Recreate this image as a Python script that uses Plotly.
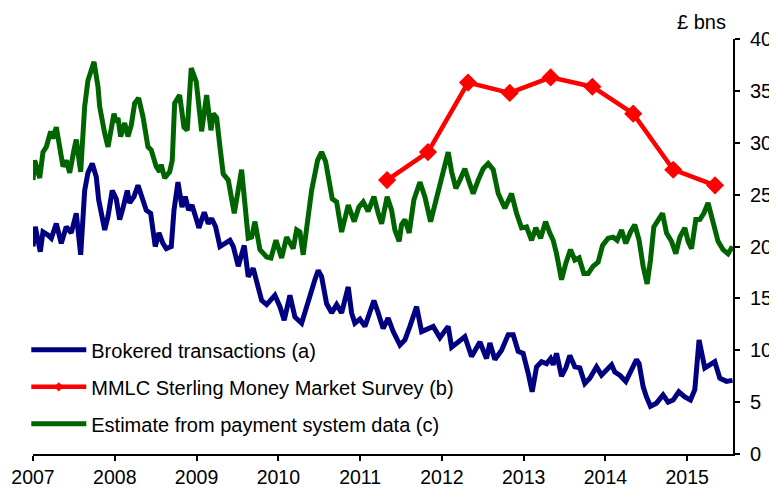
import plotly.graph_objects as go

# ---- data ----
brokered_dates = [2007.000, 2007.028, 2007.089, 2007.122, 2007.183, 2007.224, 2007.285, 2007.346, 2007.407, 2007.468,
                  2007.529, 2007.583, 2007.632, 2007.672, 2007.725, 2007.774, 2007.803, 2007.877, 2007.917, 2007.969,
                  2008.018, 2008.060, 2008.100, 2008.153, 2008.182, 2008.235, 2008.284, 2008.333, 2008.385, 2008.439,
                  2008.495, 2008.540, 2008.589, 2008.630, 2008.691, 2008.724, 2008.773, 2008.822, 2008.862, 2008.903,
                  2008.944, 2008.984, 2009.029, 2009.094, 2009.143, 2009.185, 2009.233, 2009.286, 2009.347, 2009.408,
                  2009.449, 2009.510, 2009.583, 2009.632, 2009.693, 2009.754, 2009.796, 2009.857, 2009.897, 2009.958,
                  2010.020, 2010.072, 2010.142, 2010.203, 2010.285, 2010.346, 2010.407, 2010.447, 2010.488, 2010.529,
                  2010.590, 2010.652, 2010.713, 2010.774, 2010.855, 2010.896, 2010.936, 2010.998, 2011.059, 2011.120,
                  2011.169, 2011.221, 2011.282, 2011.343, 2011.405, 2011.487, 2011.548, 2011.609, 2011.691, 2011.752,
                  2011.813, 2011.894, 2011.976, 2012.077, 2012.119, 2012.199, 2012.281, 2012.363, 2012.465, 2012.546,
                  2012.587, 2012.648, 2012.730, 2012.811, 2012.872, 2012.933, 2012.994, 2013.055, 2013.104, 2013.158,
                  2013.219, 2013.280, 2013.329, 2013.361, 2013.402, 2013.463, 2013.516, 2013.565, 2013.626, 2013.687,
                  2013.748, 2013.809, 2013.891, 2013.952, 2014.013, 2014.075, 2014.115, 2014.176, 2014.249, 2014.319,
                  2014.380, 2014.412, 2014.461, 2014.502, 2014.551, 2014.624, 2014.705, 2014.767, 2014.828, 2014.897,
                  2014.971, 2015.040, 2015.093, 2015.145, 2015.175, 2015.215, 2015.276, 2015.337, 2015.399, 2015.480,
                  2015.554]
brokered_values = [20.0, 21.9, 19.5, 21.4, 21.1, 20.8, 22.2, 20.3, 21.9, 21.3,
                   23.2, 19.2, 25.4, 27.1, 28.0, 26.7, 24.5, 21.6, 22.9, 25.4,
                   24.6, 22.6, 23.7, 25.4, 24.2, 24.8, 25.9, 24.6, 23.5, 23.2,
                   20.0, 21.3, 20.3, 19.8, 20.0, 23.5, 26.2, 23.8, 24.8, 23.5,
                   24.0, 23.0, 21.8, 23.3, 22.2, 22.7, 21.9, 20.0, 20.3, 20.6,
                   20.0, 18.1, 20.1, 17.1, 17.9, 16.3, 14.8, 14.4, 14.7, 15.3,
                   14.2, 12.9, 15.3, 13.2, 12.6, 14.2, 16.1, 16.8, 17.7, 17.1,
                   14.5, 13.6, 14.4, 13.6, 16.1, 13.6, 12.6, 13.0, 12.3, 13.9,
                   14.8, 13.6, 12.1, 13.1, 11.8, 10.5, 11.0, 12.3, 14.2, 11.8,
                   12.0, 12.3, 11.2, 12.3, 10.3, 10.8, 11.3, 9.4, 10.8, 9.2,
                   10.7, 9.1, 10.0, 11.5, 11.5, 9.9, 9.7, 7.8, 6.0, 8.4,
                   8.9, 8.7, 9.2, 8.6, 9.7, 7.5, 8.3, 9.5, 8.4, 8.3,
                   6.8, 7.3, 8.4, 7.6, 8.1, 8.6, 7.9, 7.6, 7.0, 8.1,
                   9.1, 8.7, 6.5, 5.5, 4.6, 4.9, 5.7, 5.0, 5.2, 6.0,
                   5.5, 5.2, 6.2, 11.0, 10.0, 8.3, 8.6, 8.9, 7.3, 7.0,
                   7.1]

mmlc_dates = [2011.33, 2011.83, 2012.32, 2012.83, 2013.33, 2013.84, 2014.34, 2014.83, 2015.34]
mmlc_values = [26.4, 29.1, 35.8, 34.8, 36.3, 35.4, 32.8, 27.4, 25.9]

payment_dates = [2007.000, 2007.021, 2007.082, 2007.122, 2007.163, 2007.216, 2007.244, 2007.285, 2007.326, 2007.367,
                 2007.407, 2007.449, 2007.501, 2007.529, 2007.583, 2007.632, 2007.672, 2007.746, 2007.795, 2007.815,
                 2007.877, 2007.917, 2007.990, 2008.018, 2008.039, 2008.072, 2008.121, 2008.161, 2008.202, 2008.243,
                 2008.292, 2008.345, 2008.406, 2008.446, 2008.507, 2008.549, 2008.568, 2008.610, 2008.671, 2008.703,
                 2008.732, 2008.793, 2008.846, 2008.886, 2008.935, 2008.996, 2009.021, 2009.062, 2009.123, 2009.176,
                 2009.204, 2009.246, 2009.286, 2009.326, 2009.388, 2009.461, 2009.502, 2009.551, 2009.632, 2009.674,
                 2009.714, 2009.775, 2009.857, 2009.910, 2009.971, 2010.040, 2010.101, 2010.182, 2010.224, 2010.264,
                 2010.304, 2010.366, 2010.407, 2010.480, 2010.529, 2010.578, 2010.631, 2010.659, 2010.713, 2010.774,
                 2010.855, 2010.928, 2010.985, 2011.038, 2011.099, 2011.169, 2011.221, 2011.263, 2011.331, 2011.385,
                 2011.425, 2011.478, 2011.507, 2011.548, 2011.600, 2011.658, 2011.731, 2011.792, 2011.862, 2011.914,
                 2011.976, 2012.037, 2012.077, 2012.119, 2012.171, 2012.220, 2012.281, 2012.334, 2012.383, 2012.444,
                 2012.505, 2012.566, 2012.628, 2012.689, 2012.770, 2012.852, 2012.913, 2012.974, 2013.035, 2013.097,
                 2013.149, 2013.207, 2013.268, 2013.320, 2013.361, 2013.402, 2013.463, 2013.516, 2013.573, 2013.626,
                 2013.678, 2013.736, 2013.789, 2013.850, 2013.911, 2013.965, 2014.033, 2014.094, 2014.143, 2014.197,
                 2014.249, 2014.307, 2014.359, 2014.412, 2014.461, 2014.510, 2014.551, 2014.592, 2014.644, 2014.698,
                 2014.747, 2014.808, 2014.861, 2014.910, 2014.971, 2015.011, 2015.053, 2015.105, 2015.154, 2015.203,
                 2015.255, 2015.316, 2015.377, 2015.438, 2015.499, 2015.554]
payment_values = [26.4, 28.3, 26.6, 29.1, 29.6, 31.1, 30.4, 31.5, 29.6, 27.7,
                  28.3, 27.1, 29.3, 30.3, 27.2, 33.5, 36.0, 37.8, 35.4, 33.5,
                  30.9, 29.6, 32.8, 32.0, 32.4, 30.6, 31.9, 30.6, 31.7, 33.8,
                  34.3, 32.5, 29.6, 29.3, 27.7, 27.2, 27.9, 26.6, 27.2, 28.3,
                  33.8, 34.6, 31.5, 31.2, 37.2, 35.9, 34.1, 31.1, 34.6, 31.2,
                  32.8, 32.4, 29.6, 27.0, 26.4, 23.2, 25.1, 27.4, 20.8, 20.9,
                  22.4, 19.7, 19.0, 18.9, 20.6, 18.9, 20.9, 19.8, 21.6, 21.4,
                  19.2, 22.6, 25.4, 28.3, 29.1, 28.2, 26.1, 24.6, 24.3, 21.4,
                  24.0, 22.4, 23.8, 24.3, 23.4, 24.8, 23.2, 22.2, 24.8, 23.5,
                  21.6, 20.5, 22.1, 22.6, 21.3, 24.5, 26.2, 24.8, 22.4, 24.0,
                  26.1, 27.9, 29.1, 27.2, 25.6, 26.4, 27.5, 26.2, 25.1, 26.4,
                  27.5, 28.0, 27.4, 25.1, 23.7, 25.1, 23.2, 21.8, 21.9, 20.6,
                  21.8, 20.8, 22.4, 21.3, 20.6, 19.3, 16.8, 18.4, 19.7, 18.7,
                  18.9, 17.4, 17.4, 18.1, 18.5, 20.1, 20.8, 20.9, 20.6, 21.6,
                  20.3, 21.4, 22.1, 20.6, 18.1, 16.4, 18.7, 21.9, 22.6, 23.2,
                  21.3, 20.5, 19.3, 20.9, 21.8, 20.5, 19.8, 22.6, 22.6, 23.2,
                  24.2, 22.4, 20.5, 19.7, 19.3, 20.0]

year_ticks = [2007, 2008, 2009, 2010, 2011, 2012, 2013, 2014, 2015]
value_ticks = [0, 5, 10, 15, 20, 25, 30, 35, 40]

FONT = "Arial, Liberation Sans, sans-serif"
BLUE, RED, GREEN = "#000080", "#FF0000", "#006400"

fig = go.Figure()
fig.add_trace(go.Scatter(x=brokered_dates, y=brokered_values, mode="lines",
                         name="Brokered transactions (a)", legendgroup="a",
                         line=dict(color=BLUE, width=5)))
fig.add_trace(go.Scatter(x=mmlc_dates, y=mmlc_values, mode="lines+markers",
                         name="MMLC Sterling Money Market Survey (b)", legendgroup="b",
                         showlegend=False,
                         line=dict(color=RED, width=4.5),
                         marker=dict(symbol="diamond", size=14, color=RED)))
# legend entry for the survey (smaller marker, as in the reference legend)
fig.add_trace(go.Scatter(x=[None], y=[None], mode="lines+markers",
                         name="MMLC Sterling Money Market Survey (b)", legendgroup="b",
                         line=dict(color=RED, width=4.5),
                         marker=dict(symbol="diamond", size=7, color=RED)))
fig.add_trace(go.Scatter(x=payment_dates, y=payment_values, mode="lines",
                         name="Estimate from payment system data (c)", legendgroup="c",
                         line=dict(color=GREEN, width=5)))

# the page body adds an 8px offset, so margins are chosen to land the plot area
# at the reference position in the browser window
fig.update_layout(
    width=777, height=488,
    margin=dict(l=25, r=52, t=31, b=42, autoexpand=False),
    paper_bgcolor="white", plot_bgcolor="white",
    font=dict(family=FONT, size=20, color="black"),
    showlegend=True,
    legend=dict(x=-0.0096, y=0.298, xanchor="left", yanchor="top",
                bgcolor="rgba(0,0,0,0)", traceorder="grouped", tracegroupgap=8,
                itemwidth=55, itemsizing="trace",
                font=dict(family=FONT, size=20, color="black")),
    xaxis=dict(range=[2007, 2015.56], tickvals=year_ticks, ticktext=[str(v) for v in year_ticks],
               automargin=False,
               showgrid=False, zeroline=False, showline=True, linecolor="black", linewidth=2,
               ticks="outside", ticklen=5, tickwidth=2, tickcolor="black",
               ticklabelstandoff=0,
               tickfont=dict(family=FONT, size=19.5, color="black")),
    yaxis=dict(range=[0, 40], tickvals=value_ticks, side="right",
               automargin=False,
               showgrid=False, zeroline=False, showline=True, linecolor="black", linewidth=2,
               ticks="outside", ticklen=5, tickwidth=2, tickcolor="black",
               ticklabelstandoff=6,
               tickfont=dict(family=FONT, size=20, color="black")),
    annotations=[dict(text="£ bns", xref="paper", yref="paper", x=0.993, y=1.04,
                      xanchor="right", yanchor="middle", showarrow=False,
                      font=dict(family=FONT, size=20, color="black"))],
)

fig.write_html("out.html")
